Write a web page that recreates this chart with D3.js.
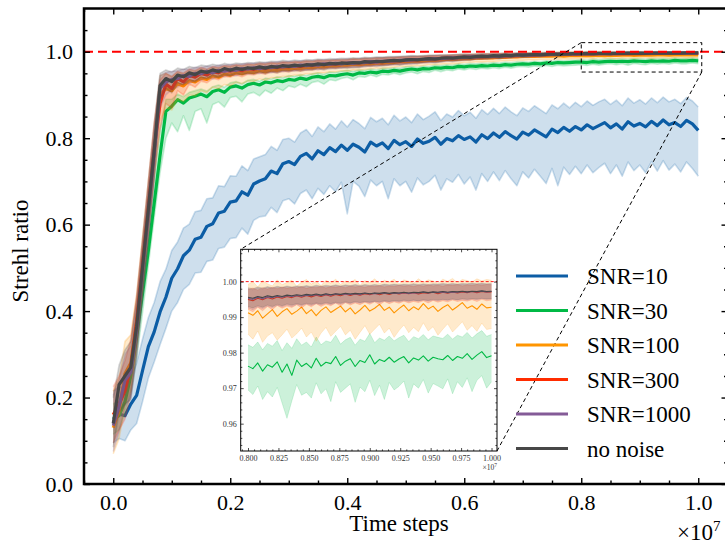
<!DOCTYPE html>
<html><head><meta charset="utf-8">
<script src="https://cdn.jsdelivr.net/npm/d3@7"></script>
<style>
body{margin:0;background:#fff}
svg{display:block}
svg text{font-family:"Liberation Serif","Tinos","Times New Roman","DejaVu Serif",serif !important}
</style>
</head><body>
<svg id="c" width="725" height="548"></svg>
<script>
// ---------- data (time in units of 1e7 steps) ----------
const tMain = d3.range(0, 101).map(i => i / 100);
const tInset = d3.range(0, 51).map(i => 0.8 + i * 0.004);

const seriesNames = ["SNR=10", "SNR=30", "SNR=100", "SNR=300", "SNR=1000", "no noise"];
const seriesColors = ["#0C5DA5", "#00B945", "#FF9500", "#FF2C00", "#845B97", "#474747"];

const xMajorTicks = [0, 0.2, 0.4, 0.6, 0.8, 1.0];
const yMajorTicks = [0, 0.2, 0.4, 0.6, 0.8, 1.0];
const insetXTicks = [0.8, 0.825, 0.85, 0.875, 0.9, 0.925, 0.95, 0.975, 1.0];
const insetYTicks = [0.96, 0.97, 0.98, 0.99, 1.0];
const referenceLevel = 1.0;

const snr10 = [0.150,0.162,0.158,0.185,0.205,0.262,0.318,0.352,0.398,0.432,0.476,0.498,0.528,0.541,0.566,0.571,0.596,0.602,0.627,0.631,0.652,0.655,0.676,0.668,0.694,0.701,0.706,0.724,0.718,0.741,0.746,0.739,0.758,0.765,0.752,0.771,0.762,0.778,0.769,0.784,0.772,0.786,0.779,0.768,0.791,0.782,0.789,0.776,0.795,0.785,0.792,0.781,0.798,0.788,0.793,0.802,0.786,0.799,0.794,0.806,0.797,0.803,0.791,0.808,0.799,0.812,0.802,0.815,0.806,0.798,0.814,0.807,0.819,0.811,0.803,0.821,0.813,0.825,0.816,0.827,0.819,0.831,0.822,0.829,0.836,0.824,0.833,0.821,0.838,0.828,0.834,0.826,0.839,0.829,0.842,0.831,0.836,0.827,0.841,0.833,0.818];
const snr10Hi = [0.215,0.225,0.220,0.245,0.280,0.335,0.385,0.420,0.468,0.497,0.540,0.560,0.592,0.601,0.630,0.633,0.660,0.662,0.690,0.688,0.713,0.712,0.736,0.725,0.752,0.757,0.762,0.781,0.772,0.797,0.800,0.791,0.812,0.820,0.804,0.826,0.815,0.833,0.821,0.840,0.826,0.843,0.834,0.822,0.848,0.838,0.846,0.831,0.853,0.840,0.849,0.836,0.856,0.843,0.851,0.861,0.841,0.856,0.849,0.864,0.852,0.860,0.846,0.866,0.855,0.869,0.857,0.872,0.861,0.852,0.870,0.862,0.875,0.866,0.857,0.877,0.868,0.881,0.870,0.883,0.873,0.886,0.876,0.884,0.890,0.878,0.888,0.875,0.893,0.881,0.889,0.879,0.893,0.882,0.895,0.884,0.890,0.880,0.894,0.886,0.872];
const snr10Lo = [0.095,0.105,0.100,0.125,0.140,0.190,0.245,0.282,0.322,0.360,0.400,0.420,0.450,0.462,0.488,0.490,0.515,0.518,0.545,0.548,0.568,0.570,0.592,0.578,0.610,0.618,0.620,0.640,0.628,0.655,0.660,0.648,0.672,0.680,0.660,0.684,0.670,0.690,0.676,0.698,0.625,0.700,0.689,0.665,0.703,0.690,0.700,0.660,0.706,0.690,0.700,0.675,0.708,0.692,0.700,0.714,0.680,0.706,0.698,0.716,0.694,0.710,0.680,0.718,0.700,0.722,0.702,0.725,0.706,0.690,0.722,0.708,0.728,0.712,0.695,0.730,0.690,0.733,0.716,0.735,0.718,0.738,0.720,0.732,0.742,0.718,0.738,0.712,0.745,0.725,0.738,0.720,0.746,0.724,0.748,0.726,0.740,0.722,0.745,0.730,0.712];

const snr30 = [0.150,0.158,0.190,0.250,0.340,0.440,0.540,0.650,0.760,0.862,0.874,0.889,0.881,0.893,0.897,0.902,0.896,0.908,0.912,0.906,0.918,0.921,0.916,0.924,0.927,0.923,0.930,0.928,0.933,0.931,0.936,0.934,0.939,0.936,0.941,0.943,0.940,0.945,0.944,0.947,0.949,0.946,0.951,0.950,0.953,0.951,0.955,0.954,0.957,0.955,0.958,0.960,0.958,0.961,0.960,0.963,0.962,0.964,0.963,0.966,0.965,0.967,0.966,0.968,0.967,0.969,0.968,0.970,0.969,0.971,0.972,0.971,0.973,0.972,0.974,0.973,0.975,0.974,0.975,0.976,0.976,0.975,0.977,0.976,0.977,0.978,0.977,0.978,0.977,0.979,0.978,0.977,0.979,0.978,0.979,0.978,0.980,0.979,0.979,0.980,0.979];
const snr30Hi = [0.185,0.195,0.235,0.285,0.375,0.485,0.600,0.710,0.820,0.890,0.890,0.902,0.896,0.906,0.910,0.914,0.909,0.919,0.923,0.918,0.928,0.931,0.926,0.934,0.936,0.932,0.939,0.937,0.942,0.940,0.945,0.943,0.947,0.945,0.949,0.951,0.948,0.953,0.952,0.955,0.957,0.954,0.958,0.957,0.960,0.958,0.962,0.961,0.963,0.962,0.965,0.966,0.964,0.967,0.966,0.969,0.968,0.970,0.969,0.972,0.971,0.973,0.972,0.974,0.973,0.975,0.974,0.976,0.975,0.977,0.977,0.976,0.978,0.977,0.979,0.978,0.980,0.979,0.980,0.981,0.982,0.981,0.983,0.982,0.983,0.984,0.983,0.984,0.983,0.985,0.984,0.983,0.985,0.984,0.985,0.984,0.986,0.985,0.985,0.986,0.985];
const snr30Lo = [0.115,0.125,0.165,0.210,0.290,0.395,0.505,0.615,0.720,0.800,0.835,0.815,0.852,0.818,0.862,0.868,0.835,0.878,0.884,0.872,0.894,0.897,0.884,0.902,0.906,0.898,0.911,0.904,0.916,0.910,0.921,0.917,0.925,0.919,0.929,0.932,0.925,0.935,0.933,0.938,0.941,0.935,0.943,0.941,0.946,0.942,0.948,0.946,0.950,0.947,0.951,0.953,0.949,0.954,0.952,0.957,0.954,0.958,0.956,0.960,0.958,0.961,0.959,0.962,0.960,0.963,0.961,0.964,0.962,0.965,0.966,0.964,0.967,0.965,0.968,0.966,0.969,0.967,0.968,0.969,0.970,0.968,0.971,0.969,0.971,0.972,0.970,0.972,0.969,0.973,0.971,0.970,0.973,0.971,0.973,0.971,0.974,0.972,0.972,0.974,0.972];

const snr100 = [0.130,0.170,0.255,0.280,0.380,0.510,0.640,0.770,0.900,0.915,0.910,0.926,0.921,0.933,0.930,0.939,0.936,0.944,0.941,0.948,0.946,0.951,0.949,0.953,0.952,0.956,0.954,0.958,0.957,0.960,0.959,0.962,0.961,0.964,0.963,0.966,0.965,0.967,0.967,0.969,0.969,0.971,0.970,0.972,0.972,0.974,0.973,0.975,0.975,0.977,0.977,0.978,0.978,0.979,0.980,0.980,0.981,0.982,0.982,0.983,0.984,0.984,0.985,0.985,0.986,0.986,0.987,0.987,0.988,0.988,0.989,0.989,0.989,0.990,0.990,0.990,0.991,0.990,0.991,0.991,0.9910,0.9916,0.9908,0.9918,0.9912,0.9921,0.9914,0.9919,0.9924,0.9916,0.9922,0.9927,0.9918,0.9925,0.9929,0.9920,0.9927,0.9931,0.9924,0.9929,0.9926];
const snr100Hi = [0.215,0.245,0.330,0.345,0.440,0.570,0.700,0.830,0.945,0.950,0.942,0.953,0.949,0.957,0.955,0.961,0.958,0.964,0.962,0.967,0.965,0.969,0.967,0.970,0.970,0.973,0.971,0.974,0.973,0.976,0.975,0.977,0.976,0.979,0.978,0.980,0.979,0.981,0.981,0.982,0.982,0.984,0.983,0.985,0.985,0.986,0.986,0.987,0.987,0.988,0.989,0.989,0.990,0.990,0.991,0.991,0.992,0.992,0.993,0.993,0.994,0.994,0.995,0.995,0.996,0.996,0.996,0.997,0.997,0.997,0.998,0.998,0.998,0.999,0.998,0.999,0.999,0.999,1.000,0.999,0.9995,1.0002,0.9990,1.0004,0.9996,1.0003,0.9993,1.0001,1.0005,0.9994,1.0002,1.0006,0.9996,1.0003,1.0007,0.9998,1.0004,1.0006,0.9999,1.0005,1.0003];
const snr100Lo = [0.070,0.105,0.180,0.215,0.320,0.450,0.580,0.710,0.840,0.870,0.865,0.890,0.885,0.900,0.898,0.910,0.905,0.918,0.914,0.924,0.921,0.929,0.926,0.932,0.931,0.937,0.934,0.940,0.939,0.943,0.942,0.946,0.945,0.949,0.948,0.951,0.951,0.953,0.953,0.956,0.955,0.958,0.957,0.959,0.960,0.962,0.961,0.963,0.964,0.966,0.966,0.967,0.967,0.968,0.970,0.970,0.971,0.972,0.972,0.973,0.975,0.975,0.976,0.976,0.977,0.977,0.978,0.979,0.979,0.980,0.980,0.981,0.981,0.982,0.982,0.982,0.983,0.983,0.983,0.984,0.9840,0.9856,0.9835,0.9860,0.9848,0.9852,0.9838,0.9858,0.9864,0.9842,0.9855,0.9866,0.9846,0.9860,0.9868,0.9850,0.9862,0.9870,0.9852,0.9865,0.9858];

const snr300 = [0.160,0.185,0.215,0.270,0.375,0.505,0.640,0.775,0.880,0.925,0.915,0.938,0.930,0.945,0.941,0.950,0.946,0.954,0.951,0.957,0.955,0.959,0.956,0.961,0.959,0.963,0.961,0.965,0.963,0.966,0.965,0.968,0.966,0.969,0.968,0.971,0.970,0.972,0.971,0.973,0.973,0.975,0.974,0.976,0.975,0.977,0.977,0.978,0.979,0.979,0.980,0.981,0.981,0.982,0.983,0.983,0.984,0.985,0.985,0.986,0.987,0.987,0.988,0.988,0.989,0.989,0.990,0.990,0.991,0.991,0.992,0.992,0.992,0.993,0.993,0.994,0.994,0.994,0.995,0.994,0.9950,0.9953,0.9951,0.9955,0.9953,0.9957,0.9955,0.9959,0.9957,0.9960,0.9958,0.9962,0.9960,0.9963,0.9962,0.9965,0.9963,0.9966,0.9965,0.9968,0.9966];
const snr300Hi = [0.225,0.250,0.285,0.335,0.435,0.565,0.700,0.835,0.935,0.950,0.943,0.955,0.951,0.960,0.957,0.964,0.960,0.966,0.964,0.968,0.967,0.970,0.968,0.972,0.970,0.973,0.972,0.975,0.973,0.976,0.975,0.977,0.976,0.978,0.977,0.980,0.979,0.980,0.980,0.981,0.981,0.983,0.982,0.984,0.983,0.985,0.985,0.986,0.986,0.987,0.987,0.988,0.988,0.989,0.990,0.990,0.990,0.991,0.991,0.992,0.992,0.993,0.993,0.993,0.994,0.994,0.995,0.995,0.995,0.996,0.996,0.996,0.996,0.997,0.997,0.997,0.997,0.998,0.998,0.998,0.9980,0.9983,0.9979,0.9984,0.9981,0.9985,0.9982,0.9986,0.9983,0.9987,0.9984,0.9988,0.9985,0.9988,0.9986,0.9989,0.9987,0.9990,0.9988,0.9990,0.9989];
const snr300Lo = [0.095,0.125,0.150,0.205,0.315,0.445,0.580,0.715,0.820,0.880,0.870,0.910,0.900,0.925,0.918,0.932,0.928,0.938,0.935,0.943,0.941,0.946,0.942,0.948,0.946,0.951,0.948,0.953,0.951,0.955,0.953,0.957,0.955,0.959,0.958,0.961,0.960,0.963,0.962,0.964,0.964,0.966,0.966,0.968,0.967,0.969,0.969,0.970,0.971,0.972,0.973,0.974,0.974,0.975,0.976,0.976,0.978,0.979,0.979,0.980,0.981,0.981,0.983,0.983,0.984,0.984,0.985,0.985,0.986,0.987,0.988,0.988,0.988,0.989,0.989,0.990,0.990,0.991,0.991,0.991,0.9920,0.9925,0.9921,0.9927,0.9924,0.9929,0.9926,0.9931,0.9928,0.9933,0.9930,0.9935,0.9932,0.9937,0.9935,0.9939,0.9937,0.9941,0.9940,0.9943,0.9941];

const snr1000 = [0.135,0.180,0.240,0.258,0.355,0.490,0.625,0.762,0.915,0.930,0.936,0.938,0.945,0.943,0.950,0.949,0.955,0.951,0.957,0.955,0.959,0.957,0.961,0.960,0.963,0.961,0.964,0.963,0.966,0.965,0.967,0.966,0.969,0.968,0.970,0.969,0.972,0.971,0.973,0.972,0.974,0.973,0.975,0.975,0.977,0.976,0.978,0.978,0.979,0.980,0.980,0.981,0.982,0.982,0.983,0.984,0.984,0.985,0.986,0.986,0.987,0.988,0.988,0.989,0.989,0.990,0.990,0.991,0.991,0.992,0.992,0.992,0.993,0.993,0.994,0.994,0.994,0.995,0.995,0.995,0.9953,0.9957,0.9955,0.9959,0.9957,0.9960,0.9958,0.9962,0.9960,0.9963,0.9962,0.9965,0.9963,0.9966,0.9965,0.9967,0.9966,0.9968,0.9967,0.9969,0.9968];
const snr1000Hi = [0.205,0.240,0.300,0.320,0.420,0.555,0.690,0.825,0.945,0.952,0.955,0.956,0.960,0.959,0.964,0.963,0.967,0.965,0.969,0.968,0.971,0.970,0.972,0.972,0.974,0.973,0.975,0.975,0.977,0.976,0.978,0.977,0.979,0.979,0.980,0.980,0.982,0.981,0.983,0.982,0.984,0.983,0.985,0.985,0.986,0.986,0.987,0.987,0.988,0.989,0.989,0.990,0.990,0.990,0.991,0.992,0.992,0.992,0.993,0.993,0.994,0.994,0.994,0.995,0.995,0.995,0.996,0.996,0.996,0.997,0.997,0.997,0.997,0.998,0.998,0.998,0.998,0.998,0.998,0.998,0.9982,0.9985,0.9983,0.9986,0.9984,0.9987,0.9985,0.9988,0.9986,0.9989,0.9988,0.9990,0.9988,0.9991,0.9990,0.9992,0.9991,0.9993,0.9992,0.9993,0.9992];
const snr1000Lo = [0.075,0.120,0.180,0.200,0.290,0.425,0.560,0.700,0.870,0.900,0.912,0.918,0.928,0.926,0.935,0.934,0.942,0.937,0.944,0.942,0.947,0.944,0.950,0.948,0.952,0.949,0.953,0.951,0.955,0.954,0.956,0.955,0.959,0.957,0.960,0.958,0.962,0.961,0.963,0.962,0.964,0.963,0.965,0.965,0.968,0.966,0.969,0.969,0.970,0.971,0.971,0.972,0.974,0.974,0.975,0.976,0.976,0.978,0.979,0.979,0.980,0.982,0.982,0.983,0.983,0.985,0.984,0.986,0.986,0.987,0.987,0.987,0.989,0.988,0.990,0.990,0.990,0.992,0.992,0.992,0.9925,0.9929,0.9927,0.9932,0.9930,0.9933,0.9931,0.9936,0.9934,0.9937,0.9936,0.9940,0.9938,0.9941,0.9940,0.9942,0.9941,0.9943,0.9942,0.9945,0.9944];

const noNoise = [0.140,0.230,0.250,0.270,0.365,0.500,0.635,0.772,0.922,0.938,0.931,0.946,0.942,0.951,0.947,0.955,0.952,0.958,0.954,0.961,0.957,0.962,0.959,0.963,0.961,0.965,0.962,0.966,0.964,0.968,0.966,0.969,0.967,0.970,0.969,0.972,0.970,0.973,0.972,0.974,0.973,0.975,0.974,0.977,0.976,0.978,0.977,0.979,0.980,0.979,0.981,0.982,0.981,0.983,0.984,0.983,0.985,0.986,0.985,0.987,0.988,0.987,0.989,0.990,0.989,0.991,0.990,0.992,0.991,0.993,0.992,0.993,0.994,0.993,0.994,0.995,0.994,0.995,0.995,0.996,0.9955,0.9960,0.9955,0.9960,0.9962,0.9958,0.9965,0.9960,0.9966,0.9963,0.9967,0.9964,0.9968,0.9966,0.9970,0.9967,0.9971,0.9969,0.9972,0.9970,0.9972];
const noNoiseHi = [0.200,0.275,0.310,0.330,0.430,0.565,0.700,0.835,0.950,0.958,0.953,0.962,0.959,0.966,0.963,0.969,0.967,0.971,0.968,0.973,0.970,0.974,0.972,0.975,0.974,0.977,0.975,0.978,0.977,0.980,0.978,0.981,0.979,0.982,0.981,0.983,0.982,0.984,0.983,0.985,0.984,0.986,0.985,0.987,0.986,0.988,0.987,0.989,0.989,0.989,0.990,0.991,0.990,0.991,0.992,0.992,0.993,0.993,0.993,0.994,0.995,0.994,0.995,0.996,0.995,0.996,0.996,0.997,0.996,0.997,0.997,0.997,0.998,0.997,0.998,0.998,0.998,0.998,0.998,0.999,0.9985,0.9988,0.9985,0.9988,0.9989,0.9986,0.9990,0.9987,0.9990,0.9989,0.9991,0.9989,0.9992,0.9990,0.9993,0.9991,0.9994,0.9992,0.9994,0.9993,0.9994];
const noNoiseLo = [0.085,0.165,0.185,0.195,0.300,0.435,0.570,0.710,0.890,0.915,0.905,0.928,0.923,0.935,0.930,0.941,0.937,0.945,0.940,0.948,0.944,0.950,0.946,0.951,0.948,0.953,0.949,0.954,0.951,0.956,0.954,0.957,0.955,0.958,0.957,0.961,0.958,0.962,0.961,0.963,0.962,0.964,0.963,0.967,0.966,0.968,0.967,0.969,0.971,0.969,0.972,0.973,0.972,0.975,0.976,0.974,0.977,0.979,0.977,0.980,0.981,0.980,0.983,0.984,0.983,0.986,0.984,0.987,0.986,0.989,0.987,0.989,0.990,0.989,0.990,0.992,0.990,0.992,0.992,0.993,0.9925,0.9932,0.9926,0.9932,0.9935,0.9930,0.9940,0.9933,0.9942,0.9937,0.9943,0.9939,0.9944,0.9942,0.9947,0.9943,0.9948,0.9946,0.9950,0.9947,0.9950];

// inset (zoomed 0.8-1.0 x 1e7), finer sampling
const insetSnr30 = [0.9762,0.9755,0.9771,0.9748,0.9766,0.9759,0.9774,0.9745,0.9768,0.9736,0.9779,0.9761,0.9770,0.9757,0.9784,0.9762,0.9773,0.9769,0.9789,0.9764,0.9776,0.9783,0.9761,0.9778,0.9772,0.9794,0.9768,0.9781,0.9775,0.9787,0.9773,0.9782,0.9789,0.9771,0.9785,0.9779,0.9791,0.9776,0.9787,0.9783,0.9780,0.9792,0.9778,0.9789,0.9784,0.9797,0.9781,0.9793,0.9803,0.9786,0.9791];
const insetSnr30Hi = [0.9822,0.9815,0.9830,0.9808,0.9826,0.9818,0.9834,0.9806,0.9828,0.9812,0.9839,0.9821,0.9830,0.9816,0.9844,0.9822,0.9833,0.9829,0.9849,0.9824,0.9836,0.9843,0.9821,0.9838,0.9832,0.9854,0.9828,0.9841,0.9835,0.9847,0.9833,0.9842,0.9849,0.9831,0.9845,0.9839,0.9851,0.9836,0.9847,0.9843,0.9840,0.9852,0.9838,0.9849,0.9844,0.9857,0.9841,0.9853,0.9862,0.9846,0.9851];
const insetSnr30Lo = [0.9695,0.9682,0.9706,0.9668,0.9690,0.9675,0.9702,0.9658,0.9615,0.9664,0.9710,0.9680,0.9688,0.9672,0.9715,0.9684,0.9698,0.9662,0.9718,0.9688,0.9700,0.9712,0.9660,0.9703,0.9690,0.9722,0.9679,0.9708,0.9668,0.9716,0.9695,0.9705,0.9720,0.9672,0.9712,0.9700,0.9724,0.9686,0.9713,0.9706,0.9698,0.9726,0.9684,0.9718,0.9702,0.9729,0.9690,0.9722,0.9735,0.9700,0.9718];
const insetSnr100 = [0.9912,0.9905,0.9918,0.9897,0.9909,0.9921,0.9902,0.9915,0.9924,0.9908,0.9917,0.9928,0.9910,0.9921,0.9904,0.9919,0.9929,0.9913,0.9922,0.9931,0.9915,0.9926,0.9909,0.9920,0.9933,0.9917,0.9925,0.9936,0.9919,0.9928,0.9912,0.9924,0.9934,0.9918,0.9929,0.9921,0.9938,0.9923,0.9931,0.9916,0.9927,0.9935,0.9920,0.9930,0.9941,0.9925,0.9932,0.9922,0.9937,0.9926,0.9928];
const insetSnr100Hi = [0.9992,1.0000,0.9985,1.0003,0.9994,0.9988,1.0005,0.9991,0.9998,1.0004,0.9987,0.9999,1.0006,0.9993,1.0001,0.9989,1.0004,0.9996,1.0007,0.9992,1.0002,0.9998,1.0006,0.9990,1.0003,0.9997,1.0008,0.9994,1.0004,0.9999,1.0007,0.9993,1.0005,1.0001,0.9996,1.0008,0.9998,1.0005,1.0002,0.9995,1.0007,1.0001,1.0009,0.9997,1.0006,1.0003,0.9999,1.0008,1.0002,1.0006,1.0004];
const insetSnr100Lo = [0.9852,0.9838,0.9861,0.9829,0.9847,0.9856,0.9835,0.9850,0.9866,0.9841,0.9853,0.9869,0.9844,0.9858,0.9832,0.9855,0.9871,0.9846,0.9860,0.9874,0.9850,0.9863,0.9838,0.9857,0.9876,0.9852,0.9866,0.9880,0.9855,0.9869,0.9843,0.9862,0.9878,0.9856,0.9871,0.9859,0.9884,0.9861,0.9873,0.9849,0.9866,0.9881,0.9858,0.9872,0.9887,0.9863,0.9876,0.9860,0.9883,0.9865,0.9868];
const insetSnr300 = [0.9950,0.9946,0.9953,0.9949,0.9955,0.9951,0.9957,0.9953,0.9958,0.9955,0.9960,0.9956,0.9961,0.9957,0.9962,0.9958,0.9963,0.9959,0.9964,0.9960,0.9965,0.9961,0.9965,0.9962,0.9966,0.9963,0.9967,0.9963,0.9967,0.9964,0.9968,0.9965,0.9968,0.9966,0.9969,0.9965,0.9969,0.9967,0.9970,0.9966,0.9970,0.9967,0.9971,0.9968,0.9971,0.9969,0.9972,0.9969,0.9972,0.9970,0.9971];
const insetSnr300Hi = [0.9978,0.9982,0.9976,0.9983,0.9979,0.9984,0.9980,0.9985,0.9981,0.9984,0.9982,0.9986,0.9981,0.9985,0.9983,0.9987,0.9982,0.9986,0.9984,0.9987,0.9983,0.9988,0.9985,0.9987,0.9984,0.9988,0.9986,0.9989,0.9985,0.9988,0.9986,0.9990,0.9987,0.9989,0.9986,0.9990,0.9987,0.9991,0.9988,0.9990,0.9987,0.9991,0.9989,0.9992,0.9988,0.9991,0.9989,0.9992,0.9990,0.9992,0.9991];
const insetSnr300Lo = [0.9922,0.9915,0.9928,0.9918,0.9930,0.9921,0.9933,0.9925,0.9931,0.9927,0.9935,0.9926,0.9936,0.9929,0.9938,0.9930,0.9937,0.9932,0.9940,0.9931,0.9941,0.9934,0.9940,0.9935,0.9942,0.9936,0.9943,0.9935,0.9944,0.9938,0.9943,0.9939,0.9945,0.9940,0.9944,0.9941,0.9946,0.9940,0.9947,0.9942,0.9946,0.9943,0.9948,0.9944,0.9947,0.9945,0.9949,0.9944,0.9950,0.9946,0.9948];
const insetSnr1000 = [0.9953,0.9950,0.9956,0.9952,0.9957,0.9955,0.9959,0.9956,0.9960,0.9958,0.9961,0.9959,0.9962,0.9960,0.9963,0.9961,0.9964,0.9962,0.9965,0.9963,0.9965,0.9964,0.9966,0.9964,0.9967,0.9965,0.9967,0.9966,0.9968,0.9966,0.9968,0.9967,0.9969,0.9967,0.9969,0.9968,0.9970,0.9968,0.9970,0.9969,0.9971,0.9969,0.9971,0.9970,0.9972,0.9970,0.9972,0.9971,0.9973,0.9971,0.9972];
const insetSnr1000Hi = [0.9980,0.9977,0.9983,0.9979,0.9984,0.9981,0.9985,0.9982,0.9986,0.9983,0.9986,0.9984,0.9987,0.9984,0.9988,0.9985,0.9988,0.9986,0.9989,0.9986,0.9989,0.9987,0.9990,0.9987,0.9990,0.9988,0.9990,0.9988,0.9991,0.9989,0.9991,0.9989,0.9991,0.9990,0.9992,0.9990,0.9992,0.9990,0.9992,0.9991,0.9993,0.9991,0.9993,0.9991,0.9993,0.9992,0.9994,0.9992,0.9994,0.9992,0.9993];
const insetSnr1000Lo = [0.9926,0.9921,0.9929,0.9924,0.9931,0.9927,0.9933,0.9929,0.9934,0.9930,0.9936,0.9932,0.9937,0.9933,0.9938,0.9934,0.9939,0.9935,0.9940,0.9936,0.9941,0.9938,0.9942,0.9939,0.9943,0.9940,0.9944,0.9941,0.9945,0.9942,0.9945,0.9943,0.9946,0.9944,0.9947,0.9945,0.9948,0.9945,0.9948,0.9946,0.9949,0.9947,0.9950,0.9948,0.9950,0.9948,0.9951,0.9949,0.9952,0.9950,0.9951];
const insetNoNoise = [0.9956,0.9953,0.9958,0.9955,0.9960,0.9957,0.9961,0.9958,0.9962,0.9960,0.9963,0.9961,0.9964,0.9962,0.9965,0.9962,0.9966,0.9963,0.9966,0.9964,0.9967,0.9965,0.9967,0.9966,0.9968,0.9966,0.9968,0.9967,0.9969,0.9967,0.9969,0.9968,0.9970,0.9968,0.9970,0.9969,0.9971,0.9969,0.9971,0.9970,0.9972,0.9970,0.9972,0.9971,0.9973,0.9971,0.9973,0.9972,0.9974,0.9972,0.9973];
const insetNoNoiseHi = [0.9983,0.9980,0.9985,0.9982,0.9986,0.9983,0.9987,0.9984,0.9988,0.9985,0.9988,0.9986,0.9989,0.9986,0.9990,0.9987,0.9990,0.9988,0.9991,0.9988,0.9991,0.9989,0.9992,0.9989,0.9992,0.9990,0.9992,0.9990,0.9993,0.9991,0.9993,0.9991,0.9993,0.9992,0.9994,0.9992,0.9994,0.9992,0.9994,0.9993,0.9995,0.9993,0.9995,0.9993,0.9995,0.9994,0.9996,0.9994,0.9996,0.9994,0.9995];
const insetNoNoiseLo = [0.9930,0.9926,0.9932,0.9928,0.9934,0.9930,0.9936,0.9932,0.9937,0.9934,0.9938,0.9935,0.9939,0.9936,0.9940,0.9937,0.9941,0.9938,0.9942,0.9939,0.9943,0.9940,0.9944,0.9941,0.9944,0.9942,0.9945,0.9943,0.9946,0.9944,0.9947,0.9945,0.9948,0.9946,0.9948,0.9946,0.9949,0.9947,0.9950,0.9948,0.9950,0.9949,0.9951,0.9949,0.9952,0.9950,0.9952,0.9951,0.9953,0.9951,0.9952];

// zoom indicator box on main axes (data coords)
const zoomBox = {x0: 0.8, x1: 1.006, y0: 0.953, y1: 1.021};

// ---------- build ----------
const FONT = '"Liberation Serif","Tinos","Times New Roman","DejaVu Serif",serif';
const mainSeries = [
  {mean: snr10, hi: snr10Hi, lo: snr10Lo},
  {mean: snr30, hi: snr30Hi, lo: snr30Lo},
  {mean: snr100, hi: snr100Hi, lo: snr100Lo},
  {mean: snr300, hi: snr300Hi, lo: snr300Lo},
  {mean: snr1000, hi: snr1000Hi, lo: snr1000Lo},
  {mean: noNoise, hi: noNoiseHi, lo: noNoiseLo}
].map((s, i) => ({...s, name: seriesNames[i], color: seriesColors[i]}));

const insetSeries = [
  {idx: 1, mean: insetSnr30, hi: insetSnr30Hi, lo: insetSnr30Lo},
  {idx: 2, mean: insetSnr100, hi: insetSnr100Hi, lo: insetSnr100Lo},
  {idx: 3, mean: insetSnr300, hi: insetSnr300Hi, lo: insetSnr300Lo},
  {idx: 4, mean: insetSnr1000, hi: insetSnr1000Hi, lo: insetSnr1000Lo},
  {idx: 5, mean: insetNoNoise, hi: insetNoNoiseHi, lo: insetNoNoiseLo}
].map(s => ({...s, color: seriesColors[s.idx]}));

const svg = d3.select("#c").attr("font-family", FONT);
const M = {left: 84, top: 8.5, right: 727.5, bottom: 484};
const x = d3.scaleLinear().domain([-0.05, 1.05]).range([M.left, M.right]);
const y = d3.scaleLinear().domain([0, 1.1]).range([M.bottom, M.top]);

const defs = svg.append("defs");
defs.append("clipPath").attr("id", "clipMain").append("rect")
  .attr("x", M.left).attr("y", M.top).attr("width", M.right - M.left).attr("height", M.bottom - M.top);

const gData = svg.append("g").attr("clip-path", "url(#clipMain)");

function drawSeries(g, times, s, xs, ys, lw, bandLw) {
  const pts = times.map((t, i) => ({t, m: s.mean[i], lo: s.lo[i], hi: s.hi[i]}));
  g.append("path")
    .attr("d", d3.area().x(d => xs(d.t)).y0(d => ys(d.lo)).y1(d => ys(d.hi))(pts))
    .attr("fill", s.color).attr("fill-opacity", 0.2).attr("stroke", "none");
  ["lo", "hi"].forEach(k => {
    g.append("path")
      .attr("d", d3.line().x(d => xs(d.t)).y(d => ys(d[k]))(pts))
      .attr("fill", "none").attr("stroke", s.color).attr("stroke-opacity", 0.2)
      .attr("stroke-width", bandLw).attr("stroke-linejoin", "round");
  });
  g.append("path")
    .attr("d", d3.line().x(d => xs(d.t)).y(d => ys(d.m))(pts))
    .attr("fill", "none").attr("stroke", s.color).attr("stroke-width", lw)
    .attr("stroke-linejoin", "round").attr("stroke-linecap", "butt");
}

mainSeries.forEach(s => drawSeries(gData, tMain, s, x, y, 3.2, 1.6));

gData.append("line")
  .attr("x1", M.left).attr("x2", M.right)
  .attr("y1", y(referenceLevel)).attr("y2", y(referenceLevel))
  .attr("stroke", "#ff0000").attr("stroke-width", 2.2).attr("stroke-dasharray", "9,5");

gData.append("rect")
  .attr("x", x(zoomBox.x0)).attr("y", y(zoomBox.y1))
  .attr("width", x(zoomBox.x1) - x(zoomBox.x0)).attr("height", y(zoomBox.y0) - y(zoomBox.y1))
  .attr("fill", "none").attr("stroke", "#000").attr("stroke-width", 1).attr("stroke-dasharray", "4,3");

// ---------- main axes ----------
const fmt1 = d3.format(".1f");
const xMinor = d3.range(-0.05, 1.051, 0.05).filter(v => Math.abs(Math.round(v * 5) - v * 5) > 1e-6);
const yMinor = d3.range(0.05, 1.1, 0.05).filter(v => Math.abs(Math.round(v * 5) - v * 5) > 1e-6);

function styleAxis(g, fontSize) {
  g.attr("font-family", FONT);
  g.select(".domain").remove();
  g.selectAll(".tick line").attr("stroke", "#000").attr("stroke-width", 1.4);
  g.selectAll(".tick text").attr("fill", "#000").attr("font-size", fontSize).attr("font-family", FONT);
}
const axes = svg.append("g");
function mainAxis(gen, tx, ty, vals, size, pad, fmt) {
  axes.append("g").attr("transform", `translate(${tx},${ty})`)
    .call(gen.tickValues(vals).tickSize(size).tickPadding(pad).tickFormat(fmt))
    .call(g => styleAxis(g, 22));
}
mainAxis(d3.axisBottom(x), 0, M.bottom, xMajorTicks, -6, 10, fmt1);
mainAxis(d3.axisBottom(x), 0, M.bottom, xMinor, -3.5, 10, "");
mainAxis(d3.axisTop(x), 0, M.top, xMajorTicks, -6, 3, "");
mainAxis(d3.axisTop(x), 0, M.top, xMinor, -3.5, 3, "");
mainAxis(d3.axisLeft(y), M.left, 0, yMajorTicks, -6, 11, fmt1);
mainAxis(d3.axisLeft(y), M.left, 0, yMinor, -3.5, 11, "");
mainAxis(d3.axisRight(y), M.right, 0, yMajorTicks, -6, 3, "");
mainAxis(d3.axisRight(y), M.right, 0, yMinor, -3.5, 3, "");

svg.append("rect").attr("x", M.left).attr("y", M.top)
  .attr("width", M.right - M.left).attr("height", M.bottom - M.top)
  .attr("fill", "none").attr("stroke", "#000").attr("stroke-width", 2.5);

svg.append("text").attr("x", 399).attr("y", 531).attr("text-anchor", "middle")
  .attr("font-size", 23).attr("font-family", FONT).text("Time steps");
svg.append("text").attr("transform", "translate(28,251) rotate(-90)").attr("text-anchor", "middle")
  .attr("font-size", 23).attr("font-family", FONT).text("Strehl ratio");
const off = svg.append("text").attr("x", 677).attr("y", 540).attr("font-size", 23).attr("font-family", FONT);
off.append("tspan").text("×10");
off.append("tspan").attr("font-size", 15).attr("dy", -9).text("7");

// ---------- inset ----------
const I = {left: 240.7, top: 249.3, right: 497, bottom: 451};
const ix = d3.scaleLinear().domain([0.794, 1.0045]).range([I.left, I.right]);
const iy = d3.scaleLinear().domain([0.9523, 1.0091]).range([I.bottom, I.top]);

svg.append("rect").attr("x", I.left).attr("y", I.top)
  .attr("width", I.right - I.left).attr("height", I.bottom - I.top).attr("fill", "#fff");
defs.append("clipPath").attr("id", "clipInset").append("rect")
  .attr("x", I.left).attr("y", I.top).attr("width", I.right - I.left).attr("height", I.bottom - I.top);
const gIn = svg.append("g").attr("clip-path", "url(#clipInset)");
insetSeries.forEach(s => drawSeries(gIn, tInset, s, ix, iy, 1.1, 0.8));
gIn.append("line").attr("x1", I.left).attr("x2", I.right)
  .attr("y1", iy(referenceLevel)).attr("y2", iy(referenceLevel))
  .attr("stroke", "#ff0000").attr("stroke-width", 0.9).attr("stroke-dasharray", "3,2");

const ixMinor = d3.range(0.795, 1.0045, 0.005).filter(v => Math.abs(Math.round(v * 40) - v * 40) > 1e-6);
const iyMinor = d3.range(0.954, 1.009, 0.002).filter(v => Math.abs(Math.round(v * 100) - v * 100) > 1e-6);
function styleInset(g) {
  g.attr("font-family", FONT);
  g.select(".domain").remove();
  g.selectAll(".tick line").attr("stroke", "#000").attr("stroke-width", 0.7);
  g.selectAll(".tick text").attr("fill", "#333").attr("font-size", 8).attr("font-family", FONT);
}
const ia = svg.append("g");
function insetAxis(gen, tx, ty, vals, size, pad, fmt) {
  ia.append("g").attr("transform", `translate(${tx},${ty})`)
    .call(gen.tickValues(vals).tickSize(size).tickPadding(pad).tickFormat(fmt)).call(styleInset);
}
insetAxis(d3.axisBottom(ix), 0, I.bottom, insetXTicks, -3, 4, d3.format(".3f"));
insetAxis(d3.axisBottom(ix), 0, I.bottom, ixMinor, -1.6, 4, "");
insetAxis(d3.axisTop(ix), 0, I.top, insetXTicks, -3, 2, "");
insetAxis(d3.axisTop(ix), 0, I.top, ixMinor, -1.6, 2, "");
insetAxis(d3.axisLeft(iy), I.left, 0, insetYTicks, -3, 4, d3.format(".2f"));
insetAxis(d3.axisLeft(iy), I.left, 0, iyMinor, -1.6, 4, "");
insetAxis(d3.axisRight(iy), I.right, 0, insetYTicks, -3, 2, "");
insetAxis(d3.axisRight(iy), I.right, 0, iyMinor, -1.6, 2, "");
svg.append("rect").attr("x", I.left).attr("y", I.top)
  .attr("width", I.right - I.left).attr("height", I.bottom - I.top)
  .attr("fill", "none").attr("stroke", "#000").attr("stroke-width", 1);
const ioff = svg.append("text").attr("x", 497).attr("y", 470).attr("text-anchor", "end")
  .attr("font-size", 7.5).attr("fill", "#333").attr("font-family", FONT);
ioff.append("tspan").text("×10");
ioff.append("tspan").attr("font-size", 5.5).attr("dy", -3).text("7");

// connectors
const conn = svg.append("g").attr("stroke", "#000").attr("stroke-width", 1).attr("stroke-dasharray", "4,3");
conn.append("line").attr("x1", x(zoomBox.x0)).attr("y1", y(zoomBox.y1)).attr("x2", I.left).attr("y2", I.top);
conn.append("line").attr("x1", x(zoomBox.x1)).attr("y1", y(zoomBox.y0)).attr("x2", I.right).attr("y2", I.bottom);

// ---------- legend ----------
const leg = svg.append("g");
mainSeries.forEach((s, i) => {
  const yy = 276 + i * 34.5;
  leg.append("line").attr("x1", 516).attr("x2", 568).attr("y1", yy).attr("y2", yy)
    .attr("stroke", s.color).attr("stroke-width", 3);
  leg.append("text").attr("x", 587).attr("y", yy + 8).attr("font-size", 23)
    .attr("font-family", FONT).attr("fill", "#000").text(s.name);
});
</script>
</body></html>
